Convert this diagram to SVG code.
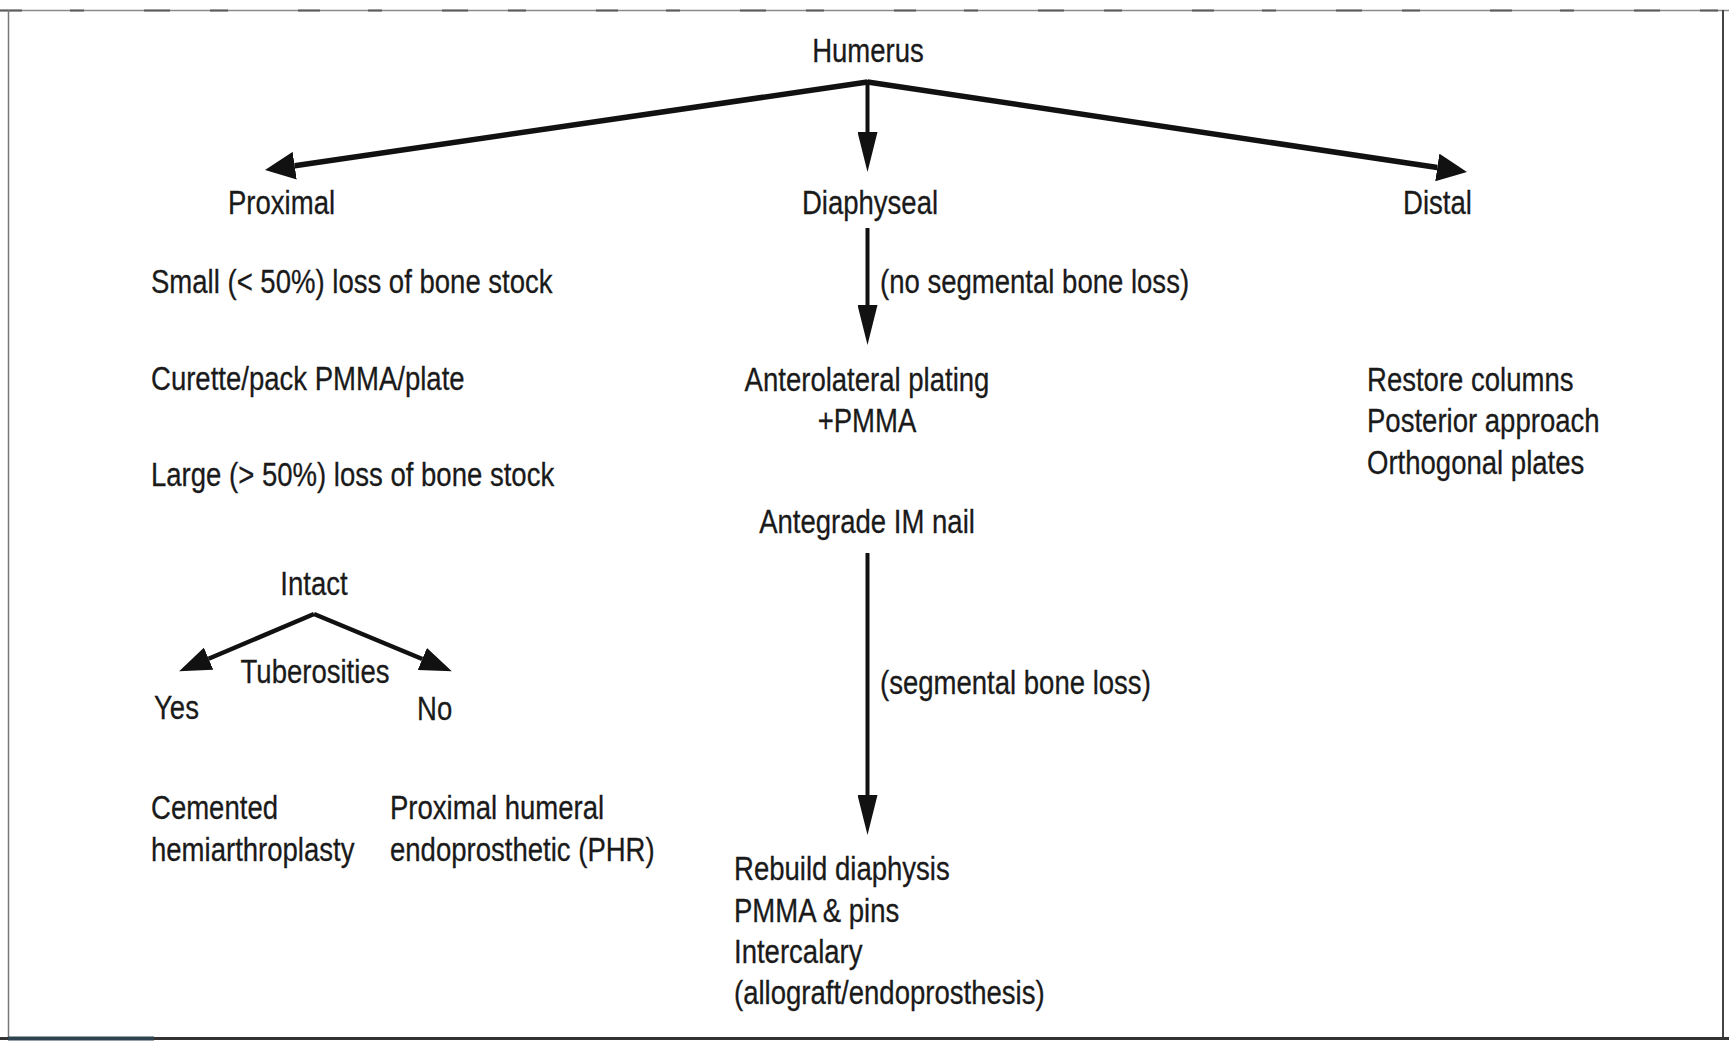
<svg xmlns="http://www.w3.org/2000/svg" width="1729" height="1041" viewBox="0 0 1729 1041">
<style>
  .t { font-family: "Liberation Sans", Arial, Helvetica, sans-serif; font-size: 34px; fill: #1a1a1a; stroke: #1a1a1a; stroke-width: 0.3px; }
  .m { text-anchor: middle; }
  .ln { stroke: #111; fill: none; stroke-linecap: butt; }
  .thick { stroke-width: 5.5; }
  .med { stroke-width: 4; }
  .sub { stroke-width: 4.5; }
  .ah { fill: #111; }
</style>
<defs>
  <marker id="ahV" markerUnits="userSpaceOnUse" orient="auto" viewBox="0 -10 40 20" markerWidth="40" markerHeight="20" refX="0" refY="0">
    <path class="ah" d="M0,-10 L40,0 L0,10 Z"/>
  </marker>
  <marker id="ahD" markerUnits="userSpaceOnUse" orient="auto" viewBox="0 -14 30 28" markerWidth="30" markerHeight="28" refX="0" refY="0">
    <path class="ah" d="M0,-14 L30,0 L0,14 Z"/>
  </marker>
  <marker id="ahS" markerUnits="userSpaceOnUse" orient="auto" viewBox="0 -12 32 24" markerWidth="32" markerHeight="24" refX="0" refY="0">
    <path class="ah" d="M0,-12 L32,0 L0,12 Z"/>
  </marker>
</defs>
<rect x="0" y="0" width="1729" height="1041" fill="#ffffff"/>
<g id="frame">
  <line x1="0" y1="10.5" x2="1729" y2="10.5" stroke="#8a8a8a" stroke-width="1.5"/>
  <line x1="0" y1="10.5" x2="1729" y2="10.5" stroke="#5a5a5a" stroke-width="2" stroke-dasharray="22 48 14 60 26 40 18 70"/>
  <line x1="8.5" y1="10" x2="8.5" y2="1039" stroke="#777" stroke-width="1.5"/>
  <line x1="1723" y1="10" x2="1723" y2="1039" stroke="#444" stroke-width="2"/>
  <line x1="0" y1="1038.5" x2="1729" y2="1038.5" stroke="#333" stroke-width="3"/>
  <line x1="8" y1="1038.5" x2="154" y2="1038.5" stroke="#2e4250" stroke-width="4"/>
</g>
<g id="connectors">
  <line class="ln thick" x1="867.5" y1="82" x2="294.7" y2="165.7" marker-end="url(#ahD)"/>
  <line class="ln thick" x1="867.5" y1="82" x2="1437.3" y2="167.5" marker-end="url(#ahD)"/>
  <line class="ln med" x1="867.5" y1="80" x2="867.5" y2="132" marker-end="url(#ahV)"/>
  <line class="ln med" x1="867.5" y1="228" x2="867.5" y2="305" marker-end="url(#ahV)"/>
  <line class="ln med" x1="867.5" y1="553" x2="867.5" y2="795" marker-end="url(#ahV)"/>
  <line class="ln sub" x1="314" y1="614" x2="208.6" y2="658.7" marker-end="url(#ahS)"/>
  <line class="ln sub" x1="314" y1="614" x2="422.3" y2="659" marker-end="url(#ahS)"/>
</g>
<g id="n-humerus"><text class="t m" transform="translate(868,62) scale(0.81,1)">Humerus</text></g>
<g id="n-proximal"><text class="t" transform="translate(228,214) scale(0.81,1)">Proximal</text></g>
<g id="n-diaphyseal"><text class="t m" transform="translate(870,214) scale(0.81,1)">Diaphyseal</text></g>
<g id="n-distal"><text class="t" transform="translate(1403,214) scale(0.81,1)">Distal</text></g>
<g id="n-small"><text class="t" transform="translate(151,293) scale(0.81,1)">Small (&lt; 50%) loss of bone stock</text></g>
<g id="n-curette"><text class="t" transform="translate(151,390) scale(0.81,1)">Curette/pack PMMA/plate</text></g>
<g id="n-large"><text class="t" transform="translate(151,486) scale(0.81,1)">Large (&gt; 50%) loss of bone stock</text></g>
<g id="n-intact"><text class="t m" transform="translate(314,595) scale(0.81,1)">Intact</text></g>
<g id="n-tuberosities"><text class="t m" transform="translate(315,683) scale(0.81,1)">Tuberosities</text></g>
<g id="n-yes"><text class="t" transform="translate(154,719) scale(0.81,1)">Yes</text></g>
<g id="n-no"><text class="t" transform="translate(417,720) scale(0.81,1)">No</text></g>
<g id="n-cemented">
  <text class="t" transform="translate(151,819) scale(0.81,1)">Cemented</text>
  <text class="t" transform="translate(151,861) scale(0.81,1)">hemiarthroplasty</text>
</g>
<g id="n-phr">
  <text class="t" transform="translate(390,819) scale(0.81,1)">Proximal humeral</text>
  <text class="t" transform="translate(390,861) scale(0.81,1)">endoprosthetic (PHR)</text>
</g>
<g id="n-noseg"><text class="t" transform="translate(880,293) scale(0.81,1)">(no segmental bone loss)</text></g>
<g id="n-anterolateral">
  <text class="t m" transform="translate(867,391) scale(0.81,1)">Anterolateral plating</text>
  <text class="t m" transform="translate(867,432) scale(0.81,1)">+PMMA</text>
</g>
<g id="n-antegrade"><text class="t m" transform="translate(867,533) scale(0.81,1)">Antegrade IM nail</text></g>
<g id="n-seg"><text class="t" transform="translate(880,694) scale(0.81,1)">(segmental bone loss)</text></g>
<g id="n-rebuild">
  <text class="t" transform="translate(734,880) scale(0.81,1)">Rebuild diaphysis</text>
  <text class="t" transform="translate(734,922) scale(0.81,1)">PMMA &amp; pins</text>
  <text class="t" transform="translate(734,963) scale(0.81,1)">Intercalary</text>
  <text class="t" transform="translate(734,1004) scale(0.81,1)">(allograft/endoprosthesis)</text>
</g>
<g id="n-distal-tx">
  <text class="t" transform="translate(1367,391) scale(0.81,1)">Restore columns</text>
  <text class="t" transform="translate(1367,432) scale(0.81,1)">Posterior approach</text>
  <text class="t" transform="translate(1367,474) scale(0.81,1)">Orthogonal plates</text>
</g>
</svg>
